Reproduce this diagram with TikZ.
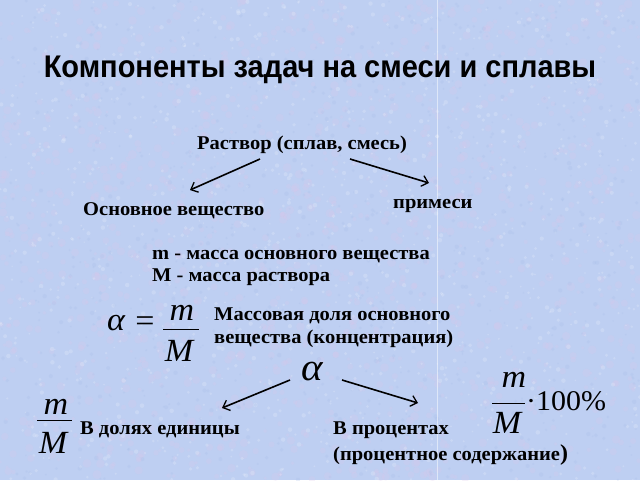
\documentclass[tikz,border=0pt]{standalone}
\usepackage{graphicx}
\usepackage{fontspec}
\setmainfont{Liberation Serif}
\newfontfamily\titlefont{Liberation Sans}
\usetikzlibrary{arrows.meta}
\definecolor{bgblue}{RGB}{190,207,242}
\definecolor{bgpink}{RGB}{220,198,234}
\definecolor{bgdark}{RGB}{165,188,232}
\newcommand{\sqz}[1]{\scalebox{1}[0.95]{#1}}
\tikzset{
  txt/.style={font=\fontsize{20.5}{22}\selectfont\bfseries, inner sep=0pt, anchor=base west},
  mathit/.style={font=\fontsize{34}{36}\selectfont\itshape, inner sep=0pt, anchor=base},
  arr/.style={line width=1.6pt, -{Straight Barb[length=6pt,width=11pt,line width=1.3pt]}},
  bar/.style={line width=0.8pt}
}
\begin{document}
\begin{tikzpicture}[x=1pt,y=-1pt]
\fill[bgblue] (0,0) rectangle (640,480);
\useasboundingbox (0,0) rectangle (640,480);
\pgfmathsetseed{7}
\foreach \i in {1,...,1400}{
  \pgfmathsetmacro{\px}{640*rnd}
  \pgfmathsetmacro{\py}{480*rnd}
  \pgfmathsetmacro{\pr}{1.5+3*rnd}
  \fill[bgpink, opacity=0.22] (\px,\py) circle (\pr);
}
\foreach \i in {1,...,1200}{
  \pgfmathsetmacro{\px}{640*rnd}
  \pgfmathsetmacro{\py}{480*rnd}
  \pgfmathsetmacro{\pr}{0.8+1.5*rnd}
  \fill[white, opacity=0.18] (\px,\py) circle (\pr);
}
\foreach \i in {1,...,900}{
  \pgfmathsetmacro{\px}{640*rnd}
  \pgfmathsetmacro{\py}{480*rnd}
  \pgfmathsetmacro{\pr}{0.8+1.5*rnd}
  \fill[bgdark, opacity=0.22] (\px,\py) circle (\pr);
}
\draw[white, opacity=0.5, line width=1pt] (437,0) -- (437,480);

\node[font=\titlefont\fontsize{29}{31}\selectfont\bfseries, inner sep=0pt, anchor=base] (title) at (320,77) {\scalebox{1}[1.08]{Компоненты задач на смеси и сплавы}};

\node[txt] (sol) at (197,149) {\sqz{Раствор (сплав, смесь)}};
\node[txt] (main) at (83,215) {\sqz{Основное вещество}};
\node[txt] (imp) at (393,208) {\sqz{примеси}};
\coordinate (s1) at (260,159);
\coordinate (e1) at (190,190);
\coordinate (s2) at (350,159);
\coordinate (e2) at (429,183);
\draw[arr] (s1) -- (e1);
\draw[arr] (s2) -- (e2);

\node[txt] (l1) at (152,259) {\sqz{m - масса основного вещества}};
\node[txt] (l2) at (152,281) {\sqz{М - масса раствора}};

\node[mathit, anchor=base west] (al1) at (107,330) {\sqz{α}};
\node[font=\fontsize{34}{36}\selectfont, inner sep=0pt, anchor=base] (eq) at (145,331) {\sqz{=}};
\node[mathit] (m1) at (182,320) {\sqz{m}};
\node[mathit] (M1) at (179,361) {\sqz{M}};
\coordinate (b1a) at (163,329);
\coordinate (b1b) at (199,329);
\draw[bar] (b1a) -- (b1b);
\node[txt] (d1) at (214,320) {\sqz{Массовая доля основного}};
\node[txt] (d2) at (214,343) {\sqz{вещества (концентрация)}};

\node[mathit, font=\fontsize{41}{43}\selectfont\itshape] (al2) at (312,380) {\sqz{α}};
\coordinate (a1) at (290,380);
\coordinate (f1) at (222,408);
\coordinate (a2) at (342,380);
\coordinate (f2) at (418,403);
\draw[arr] (a1) -- (f1);
\draw[arr] (a2) -- (f2);

\node[mathit] (m2) at (56,414) {\sqz{m}};
\node[mathit] (M2) at (53,453) {\sqz{M}};
\coordinate (b2a) at (37,420);
\coordinate (b2b) at (72,420);
\draw[bar] (b2a) -- (b2b);
\node[txt] (u) at (80,434) {\sqz{В долях единицы}};

\node[txt] (p1) at (333,434) {\sqz{В процентах}};
\node[txt] (p2) at (333,460) {\sqz{(процентное содержание{\fontsize{24}{26}\selectfont)}}};

\node[mathit] (m3) at (514,387) {\sqz{m}};
\node[mathit] (M3) at (507,433) {\sqz{M}};
\coordinate (b3a) at (492,403);
\coordinate (b3b) at (525,403);
\draw[bar] (b3a) -- (b3b);
\node[font=\fontsize{30}{32}\selectfont, inner sep=0pt, anchor=base west] (pc) at (526,410) {\sqz{·100\%}};
\end{tikzpicture}
\end{document}
